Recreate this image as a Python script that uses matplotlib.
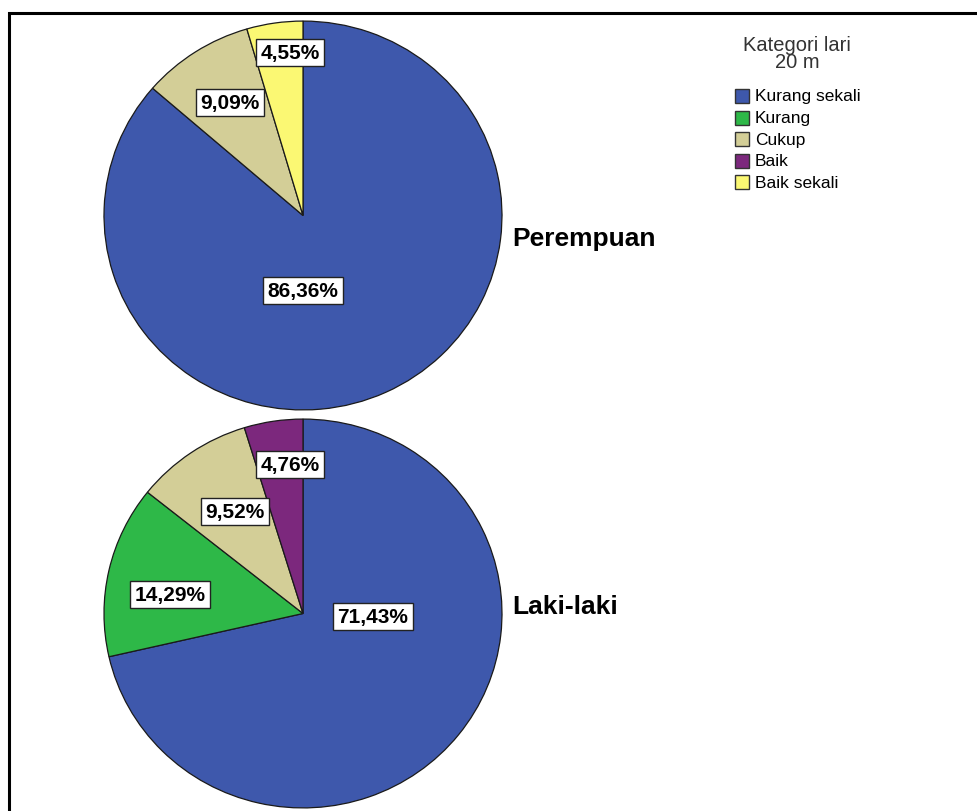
import matplotlib
matplotlib.use('Agg')
import matplotlib.pyplot as plt
from matplotlib.patches import Rectangle
from matplotlib.transforms import Affine2D

# ---- data ----
categories = ['Kurang sekali', 'Kurang', 'Cukup', 'Baik', 'Baik sekali']
colors = ['#3E58AC', '#2EB848', '#D3CE97', '#7C287D', '#FBF873']
groups = ['Perempuan', 'Laki-laki']
perempuan = [86.36, 0, 9.09, 0, 4.55]
laki_laki = [71.43, 14.29, 9.52, 4.76, 0]
legend_title = 'Kategori lari\n20 m'

# ---- layout (pixels) ----
W, H = 977, 812
FONT = 'Liberation Sans'
fig = plt.figure(figsize=(W / 100, H / 100), dpi=100)
ax = fig.add_axes([0, 0, 1, 1])

R = 199
YSCALE = 0.977
centers = [(303, 216.5), (303, 614.5)]
group_label_y = [239, 607]
# label box offsets (dx, dy downwards) from pie center, per category index
label_offsets = [
    {0: (0, 75), 2: (-73, -113), 4: (-13, -163)},
    {0: (70, 3), 1: (-133, -19), 2: (-68, -102), 3: (-13, -149)},
]

for values, (cx, cy), name, ly, offs in zip([perempuan, laki_laki], centers, groups,
                                             group_label_y, label_offsets):
    idx = [i for i, v in enumerate(values) if v > 0]
    vals = [values[i] for i in idx]
    cols = [colors[i] for i in idx]
    wedges, _ = ax.pie(vals, colors=cols, startangle=90, counterclock=False,
                       center=(cx, H - cy), radius=R,
                       wedgeprops=dict(edgecolor='#1a1a1a', linewidth=0.9))
    squash = Affine2D().translate(-cx, -(H - cy)).scale(1, YSCALE).translate(cx, H - cy)
    for w in wedges:
        w.set_transform(squash + ax.transData)
    for i in idx:
        dx, dy = offs[i]
        txt = f"{values[i]:.2f}".replace('.', ',') + '%'
        ax.text(cx + dx, H - cy - dy, txt, ha='center', va='center',
                fontsize=15, fontweight='bold', family=FONT, color='black',
                bbox=dict(boxstyle='square,pad=0.2', fc='white', ec='#222222', lw=1.0))
    ax.text(512, H - ly, name, ha='left', va='center', fontsize=19,
            fontweight='bold', family=FONT, color='black')

# ---- legend (drawn manually) ----
ax.text(797, H - 54, legend_title, ha='center', va='center', fontsize=14.5,
        family=FONT, color='#333333', linespacing=0.9)
row0, step = 97, 21.5
for i, (cat, col) in enumerate(zip(categories, colors)):
    yc = row0 + i * step
    ax.add_patch(Rectangle((735, H - yc - 7), 14, 14, fc=col, ec='#333333', lw=1.0))
    ax.text(755, H - yc, cat, ha='left', va='center', fontsize=12.5,
            family=FONT, color='black')

# ---- outer frame ----
ax.add_patch(Rectangle((9, -30), 1100, H - 14 + 30, fill=False, lw=2.2,
                       ec='black', clip_on=False))

ax.set_xlim(0, W)
ax.set_ylim(0, H)
ax.set_aspect('equal')
ax.axis('off')
fig.savefig('out.png', dpi=100, facecolor='white')
